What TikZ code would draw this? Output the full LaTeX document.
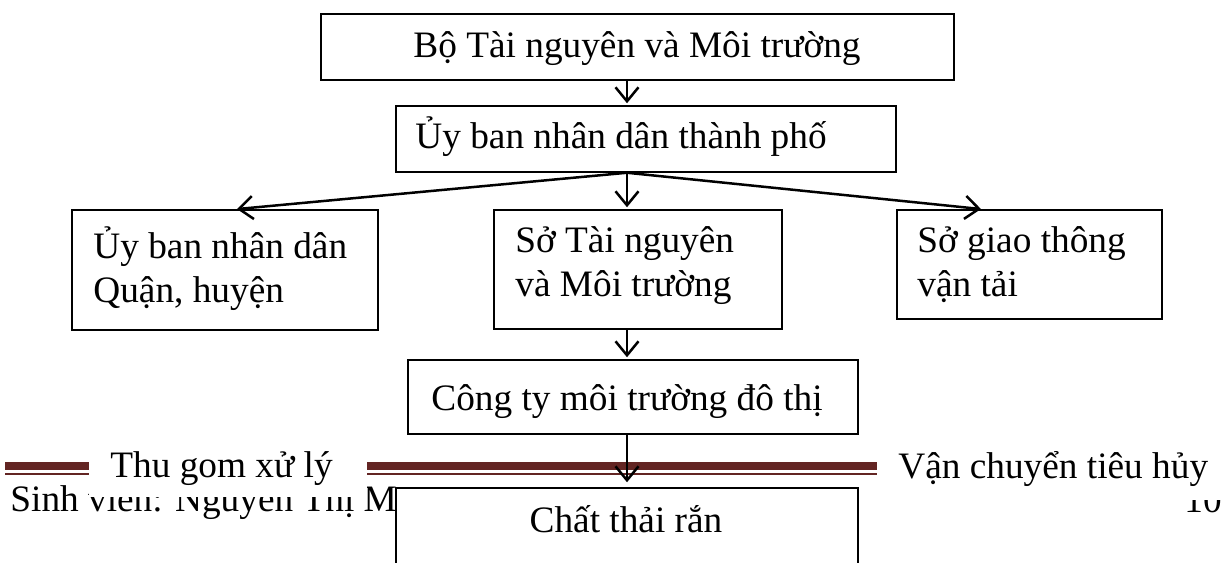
\documentclass[tikz,border=0pt]{standalone}
\usepackage{fontspec}
\setmainfont{Liberation Serif}
\usetikzlibrary{arrows.meta,fit}
\definecolor{rulered}{HTML}{632523}
\begin{document}
\begin{tikzpicture}[x=0.5pt,y=-0.5pt,
  box/.style={draw=black,line width=0.75pt,fill=white,inner sep=0pt},
  txt/.style={font=\fontsize{18.65}{22}\selectfont,inner sep=0pt},
  lbl/.style={txt,align=left},
  cover/.style={fill=white,inner sep=0pt},
  arr/.style={line width=1.25pt,-{Straight Barb[length=7pt,width=11.5pt,line width=1.25pt]},shorten >=1pt},
  thickrule/.style={rulered,line width=4pt},
  thinrule/.style={rulered,line width=1pt}]
\useasboundingbox (0,0) rectangle (1230,562);
\clip (0,0) rectangle (1230,562);

% page footer
\node[txt,anchor=base west] (foot) at (10,511) {Sinh viên: Nguyễn Thị Mơ};
\node[txt,anchor=base west] (pnum) at (1184,512) {10};

% header rules
\path (5,466) coordinate (ruleA) (877,466) coordinate (ruleB);
\draw[thickrule] (ruleA) -- (ruleB);
\draw[thinrule] ([yshift=-4pt]ruleA) -- ([yshift=-4pt]ruleB);

% header captions on white ground
\node[cover,fit={(89,440) (367,497)}] (capLbg) {};
\node[txt,anchor=base west] (capL) at (110,477) {Thu gom xử lý};
\node[cover,fit={(877,440) (1230,500)}] (capRbg) {};
\node[txt,anchor=base west] (capR) at (898,478) {Vận chuyển tiêu hủy};

% boxes
\node[box,fit={(321,14) (954,80)}] (b1) {};
\node[txt,anchor=base] (t1) at (637,57) {Bộ Tài nguyên và Môi trường};

\node[box,fit={(396,106) (896,172)}] (b2) {};
\node[txt,anchor=base west] (t2) at (415,148) {Ủy ban nhân dân thành phố};

\node[box,fit={(72,210) (378,330)}] (b3) {};
\node[lbl,anchor=north west] (t3) at (93,226) {Ủy ban nhân dân\\Quận, huyện};

\node[box,fit={(494,210) (782,329)}] (b4) {};
\node[lbl,anchor=north west] (t4) at (515,226) {Sở Tài nguyên\\và Môi trường};

\node[box,fit={(897,210) (1162,319)}] (b5) {};
\node[lbl,anchor=north west] (t5) at (917,226) {Sở giao thông\\vận tải};

\node[box,fit={(408,360) (858,434)}] (b6) {};
\node[txt,anchor=base west] (t6) at (431,410) {Công ty môi trường đô thị};

\node[box,fit={(396,488) (858,620)}] (b7) {};
\node[txt,anchor=base] (t7) at (626,532) {Chất thải rắn};

% connectors
\path (627,0) coordinate (axis) (235,0) coordinate (lx) (983,0) coordinate (rx);
\draw[arr] (b1.south -| axis) -- (b2.north -| axis);
\draw[arr] (b2.south -| axis) -- (b3.north -| lx);
\draw[arr] (b2.south -| axis) -- (b4.north -| axis);
\draw[arr] (b2.south -| axis) -- (b5.north -| rx);
\draw[arr] (b4.south -| axis) -- (b6.north -| axis);
\draw[arr,shorten >=2.5pt] (b6.south -| axis) -- (b7.north -| axis);
\end{tikzpicture}
\end{document}
